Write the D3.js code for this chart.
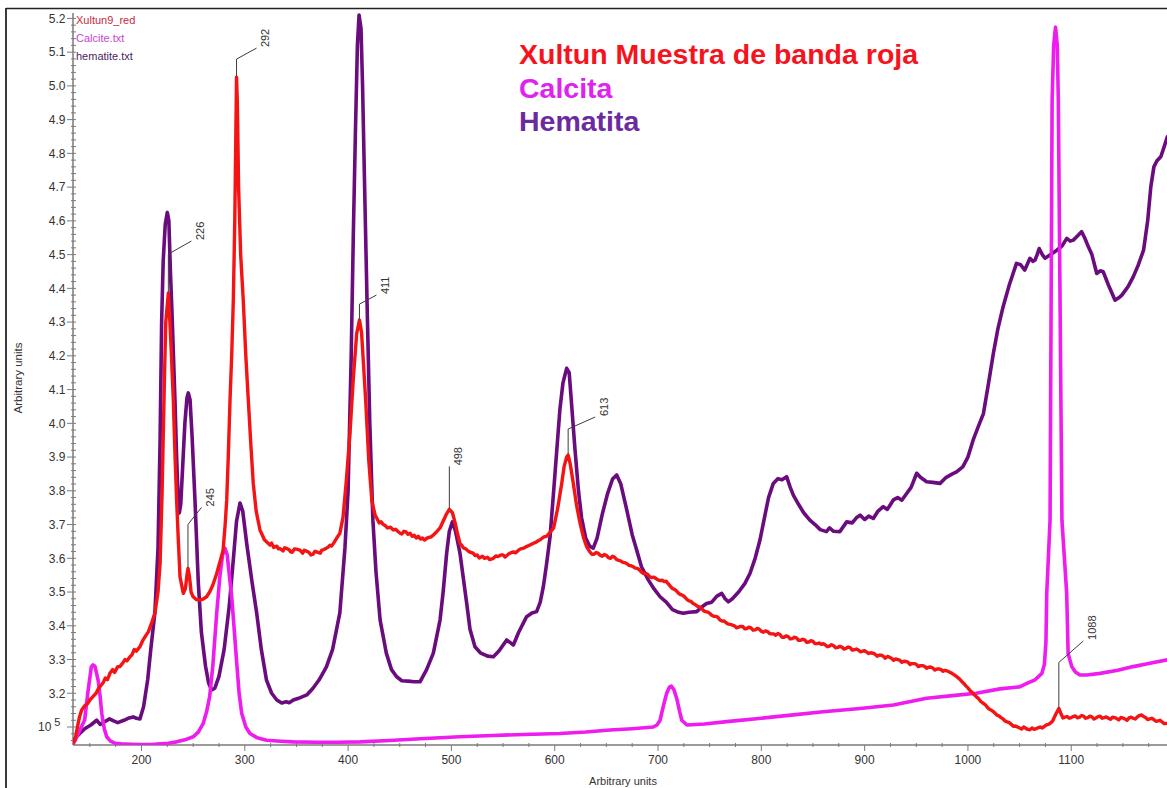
<!DOCTYPE html>
<html>
<head>
<meta charset="utf-8">
<script src="https://cdn.jsdelivr.net/npm/d3@7/dist/d3.min.js"></script>
<style>
  html, body { margin: 0; padding: 0; background: #fff; }
  svg { display: block; font-family: Arial, "Liberation Sans", sans-serif; }
</style>
</head>
<body>
<svg id="chart" width="1167" height="788"></svg>
<script>
// Raman spectra: red band sample vs. calcite and hematite references
const seriesNames = ["Xultun9_red", "Calcite.txt", "hematite.txt"];
const titleLines = ["Xultun Muestra de banda roja", "Calcita", "Hematita"];
const axisTitle = "Arbitrary units";

const xTickValues = [200, 300, 400, 500, 600, 700, 800, 900, 1000, 1100];
const yTickValues = [3.1, 3.2, 3.3, 3.4, 3.5, 3.6, 3.7, 3.8, 3.9, 4.0, 4.1, 4.2, 4.3, 4.4, 4.5, 4.6, 4.7, 4.8, 4.9, 5.0, 5.1, 5.2];

// peak positions annotated on the sample spectrum
const peakLabels = [226, 245, 292, 411, 498, 613, 1088];

// [Raman shift, intensity]
const sampleSpectrum = [
  [134,3.055],[135.6,3.061],[138,3.1],[140,3.13],[142,3.15],[145,3.163],[148,3.17],[150,3.18],[153,3.19],[156,3.2],
  [158,3.212],[160,3.22],[163,3.232],[165,3.245],[167,3.24],[169.4,3.259],[172,3.27],[174,3.262],[177,3.279],[179,3.279],
  [182,3.29],[184,3.3],[186,3.296],[188.8,3.308],[191,3.315],[193,3.33],[195,3.325],[198.5,3.338],[201,3.355],[204,3.37],
  [206.6,3.382],[210,3.41],[213,3.437],[216,3.5],[218,3.585],[220,3.8],[222,4.1],[223.5,4.3],[226,4.386],[227.5,4.3],
  [229,4.2],[230.8,4.069],[232.5,3.9],[234,3.773],[235.7,3.65],[237.3,3.545],[240.5,3.496],[242.5,3.51],[244,3.55],[245,3.57],
  [246.5,3.545],[248,3.5],[250,3.486],[253,3.478],[256.6,3.476],[260,3.48],[263,3.486],[266,3.5],[269,3.52],[272.8,3.555],
  [276,3.59],[279,3.624],[281,3.7],[282.5,3.773],[284,3.9],[285.7,4.069],[287.3,4.2],[288.9,4.365],[290.3,4.6],[291.3,4.85],
  [292,5.026],[292.8,4.95],[294,4.7],[296,4.5],[298.5,4.365],[301,4.2],[303.4,4.069],[306,3.93],[308.2,3.822],[311,3.74],
  [314.7,3.684],[319,3.655],[324.4,3.639],[326,3.645],[328,3.632],[331,3.636],[332.5,3.628],[334,3.629],[337,3.622],[338.5,3.631],
  [340,3.63],[343,3.625],[344.5,3.619],[346,3.618],[348,3.628],[350,3.627],[353.4,3.624],[356,3.615],[357.5,3.624],[359,3.622],
  [362,3.618],[364,3.61],[366,3.612],[368,3.621],[369.6,3.619],[373,3.615],[374.5,3.624],[376,3.625],[379,3.63],[381,3.634],
  [382.5,3.639],[384,3.636],[386,3.645],[389,3.66],[392,3.674],[395,3.72],[398,3.82],[401.8,3.97],[405,4.13],[408.3,4.266],
  [411,4.306],[413,4.27],[415,4.17],[417,4.069],[420,3.89],[423,3.77],[426,3.73],[430,3.705],[432,3.708],[434,3.7],
  [436,3.697],[438,3.69],[441,3.692],[443.8,3.684],[446,3.686],[448,3.68],[450,3.675],[452,3.672],[454,3.68],[456,3.678],
  [458,3.671],[460,3.674],[462,3.665],[464,3.668],[466,3.66],[468,3.665],[470,3.657],[472,3.66],[474,3.654],[476,3.659],
  [478,3.662],[480,3.663],[483,3.67],[485.8,3.679],[489,3.69],[492,3.71],[495,3.73],[498,3.745],[501,3.735],[504,3.7],
  [506,3.672],[508.3,3.644],[510,3.638],[512,3.63],[514,3.628],[516,3.622],[518,3.618],[521,3.615],[523,3.608],[525,3.61],
  [527,3.601],[530,3.606],[532,3.6],[535,3.603],[537,3.596],[540.6,3.6],[543,3.607],[545,3.605],[548,3.61],[550,3.61],
  [552,3.604],[555,3.612],[558,3.617],[560,3.619],[562,3.616],[565,3.624],[567,3.628],[570,3.63],[572,3.634],[575,3.638],
  [577,3.641],[579,3.644],[582,3.648],[584,3.652],[586,3.655],[588,3.66],[590,3.664],[592,3.665],[595,3.675],[599,3.69],
  [603,3.75],[606.8,3.822],[609,3.87],[611.5,3.9],[613,3.906],[615,3.88],[618,3.822],[621,3.76],[624.5,3.704],[628,3.66],
  [631,3.634],[634,3.619],[636,3.612],[638,3.612],[640,3.617],[642,3.615],[644,3.609],[646,3.606],[648,3.611],[650,3.609],
  [652,3.602],[654,3.6],[656,3.606],[658,3.603],[660,3.596],[662,3.594],[664,3.592],[666,3.588],[668,3.587],[670,3.584],
  [672,3.579],[674,3.578],[676,3.575],[678,3.571],[680,3.57],[682,3.566],[684,3.559],[686,3.555],[688,3.556],[690,3.552],
  [692,3.545],[694,3.543],[696,3.544],[698,3.54],[700,3.536],[702,3.534],[704,3.535],[706,3.531],[708,3.532],[710,3.524],
  [712,3.517],[714,3.51],[716,3.508],[718,3.503],[720,3.496],[722,3.492],[724,3.49],[726,3.485],[728,3.478],[730,3.474],
  [732,3.472],[734,3.466],[736,3.463],[738,3.458],[740,3.456],[742,3.452],[744,3.445],[746,3.442],[748,3.441],[750,3.437],
  [752,3.431],[754,3.428],[756,3.428],[758,3.425],[760,3.417],[762,3.414],[764,3.414],[766,3.409],[768,3.405],[770,3.404],
  [772,3.402],[774,3.4],[776,3.394],[778,3.396],[780,3.398],[782,3.398],[784,3.391],[786,3.392],[788,3.396],[790,3.394],
  [792,3.387],[794,3.388],[796,3.392],[798,3.39],[800,3.384],[802,3.381],[804,3.385],[806,3.383],[808,3.377],[810,3.376],
  [812,3.376],[814,3.372],[816,3.377],[818,3.374],[820,3.366],[822,3.366],[824,3.37],[826,3.368],[828,3.361],[830,3.362],
  [832,3.366],[834,3.364],[836,3.357],[838,3.357],[840,3.36],[842,3.358],[844,3.351],[846,3.352],[848,3.356],[850,3.354],
  [852,3.347],[854,3.347],[856,3.349],[858,3.345],[860,3.347],[862,3.343],[864,3.338],[866,3.34],[868,3.344],[870,3.341],
  [872,3.335],[874,3.336],[876,3.339],[878,3.337],[880,3.331],[882,3.333],[884,3.337],[886,3.335],[888,3.328],[890,3.329],
  [892,3.331],[894,3.328],[896,3.323],[898,3.325],[900,3.326],[902,3.322],[904,3.318],[906,3.32],[908,3.319],[910,3.316],
  [912,3.31],[914,3.313],[916,3.313],[918,3.31],[920,3.304],[922,3.309],[924,3.307],[926,3.304],[928,3.298],[930,3.302],
  [932,3.3],[934,3.298],[936,3.292],[938,3.295],[940,3.294],[942,3.292],[944,3.285],[946,3.288],[948,3.288],[950,3.286],
  [952,3.279],[954,3.282],[956,3.282],[958,3.28],[960,3.274],[962,3.277],[964,3.278],[966,3.275],[968,3.269],[970,3.272],
  [972,3.272],[974,3.27],[976,3.265],[978,3.268],[980,3.266],[982,3.263],[984,3.26],[986,3.256],[988,3.252],[990,3.247],
  [992,3.242],[994,3.235],[996,3.229],[998,3.222],[1000,3.216],[1002,3.208],[1004,3.203],[1006,3.196],[1008,3.19],[1010,3.185],
  [1012,3.177],[1014,3.172],[1016,3.168],[1018,3.162],[1020,3.154],[1022,3.151],[1024,3.147],[1026,3.142],[1028,3.135],[1030,3.133],
  [1032,3.128],[1034,3.124],[1036,3.118],[1038,3.115],[1040,3.113],[1042,3.108],[1044,3.102],[1046,3.103],[1048,3.1],[1050,3.097],
  [1052,3.094],[1054,3.1],[1056,3.096],[1058,3.093],[1060,3.092],[1062,3.097],[1064,3.093],[1066,3.095],[1068,3.098],[1070,3.1],
  [1072,3.097],[1074,3.102],[1076,3.106],[1078,3.108],[1080,3.112],[1082,3.118],[1085,3.138],[1088,3.155],[1090,3.14],[1092,3.127],
  [1094,3.129],[1096,3.131],[1098,3.126],[1100,3.128],[1102,3.131],[1104,3.133],[1106,3.127],[1108,3.129],[1110,3.134],[1112,3.132],
  [1114,3.126],[1116,3.128],[1118,3.132],[1120,3.13],[1122,3.124],[1124,3.127],[1126,3.131],[1128,3.132],[1130,3.126],[1132,3.128],
  [1134,3.13],[1136,3.126],[1138,3.123],[1140,3.129],[1142,3.128],[1144,3.125],[1146,3.121],[1148,3.128],[1150,3.127],[1152,3.124],
  [1154,3.12],[1156,3.127],[1158,3.129],[1160,3.126],[1162,3.124],[1164,3.13],[1166,3.134],[1168,3.136],[1170,3.131],[1172,3.128],
  [1174,3.122],[1176,3.124],[1178,3.126],[1180,3.122],[1182,3.117],[1184,3.118],[1186,3.12],[1188,3.115],[1190,3.11],[1193,3.111]
];

const calciteSpectrum = [
  [134,3.05],[138,3.075],[141,3.095],[145,3.121],[148,3.2],[151.5,3.279],[153,3.284],[155,3.28],[158,3.239],[160,3.19],
  [161.5,3.141],[164,3.095],[166.3,3.071],[170,3.058],[174.3,3.052],[180,3.05],[190,3.049],[200,3.048],[210,3.048],[218,3.05],
  [226,3.052],[234,3.056],[242,3.062],[250,3.071],[255,3.085],[259.8,3.111],[263,3.145],[266,3.19],[269,3.28],[272.8,3.437],
  [276,3.55],[278.5,3.61],[280.8,3.63],[283,3.61],[285,3.55],[287.3,3.486],[290,3.38],[292.2,3.289],[294.5,3.2],[297,3.141],
  [301,3.1],[305,3.081],[312,3.068],[321,3.061],[335,3.058],[347,3.056],[370,3.055],[390,3.055],[411.5,3.056],[440,3.06],
  [470,3.065],[508,3.071],[540,3.075],[570,3.078],[605,3.081],[630,3.085],[653.5,3.091],[675,3.095],[695.4,3.1],[699,3.106],
  [702,3.12],[705,3.16],[708.4,3.2],[711,3.218],[713,3.221],[715.5,3.21],[718.5,3.18],[721,3.145],[723,3.12],[728,3.106],
  [745,3.109],[766.5,3.116],[800,3.126],[831,3.136],[860,3.145],[895.6,3.155],[927.8,3.165],[960,3.185],[985,3.193],[1008,3.2],
  [1031,3.213],[1050,3.219],[1057,3.229],[1065,3.24],[1071.6,3.259],[1074,3.285],[1075.5,3.35],[1076.3,3.496],[1079.5,3.713],[1081.5,4.958],
  [1083,5.12],[1084.8,5.174],[1086.5,5.12],[1087.5,4.958],[1091,3.713],[1095.6,3.496],[1097,3.318],[1100.5,3.279],[1104,3.263],[1108.5,3.254],
  [1115,3.254],[1128,3.259],[1145,3.268],[1160,3.279],[1175,3.288],[1193,3.299]
];

const hematiteSpectrum = [
  [134,3.061],[140,3.08],[145,3.095],[151,3.106],[156.6,3.12],[160,3.108],[164,3.115],[169,3.124],[173,3.118],[177,3.113],
  [183,3.12],[188,3.127],[192,3.13],[195,3.126],[198.5,3.124],[202,3.16],[206,3.24],[209,3.33],[213,3.44],[216,3.63],
  [218,3.95],[219.5,4.3],[221,4.48],[223,4.59],[225,4.625],[226.5,4.6],[228,4.45],[229.5,4.33],[232.4,4.07],[234,3.9],
  [235.6,3.77],[236.6,3.734],[238,3.76],[240,3.88],[242,4.0],[244,4.075],[245.3,4.09],[247,4.07],[249,3.96],[251.8,3.77],
  [255,3.527],[258,3.38],[262,3.28],[265,3.23],[268,3.21],[271,3.215],[275,3.25],[280,3.33],[285,3.46],[289,3.6],
  [292,3.71],[295.4,3.764],[298,3.74],[302,3.64],[307,3.53],[311.5,3.438],[316,3.33],[321,3.239],[326,3.2],[331,3.18],
  [335.7,3.171],[340,3.175],[343,3.172],[347,3.18],[352,3.185],[356,3.19],[360,3.195],[366,3.215],[372,3.24],[379,3.278],
  [385,3.33],[392,3.438],[397,3.633],[400,3.8],[403,4.2],[405,4.55],[407,4.85],[409,5.12],[410.6,5.21],[412.5,5.17],
  [414,5.0],[416,4.7],[418.3,4.365],[421,4.0],[424,3.713],[427,3.56],[431,3.417],[437,3.319],[442,3.27],[447,3.249],
  [452,3.237],[458,3.236],[464,3.234],[469.6,3.234],[476,3.27],[482.5,3.319],[489,3.417],[492,3.5],[495.4,3.615],[498,3.68],
  [501,3.708],[504,3.68],[508.3,3.615],[514.8,3.467],[518,3.39],[522.8,3.338],[528,3.32],[535,3.31],[540.6,3.308],[546,3.325],
  [553.5,3.358],[557,3.35],[560,3.343],[565,3.38],[572.8,3.427],[578,3.438],[582.5,3.442],[586,3.47],[589,3.516],[592,3.58],
  [595.5,3.664],[599,3.8],[602,3.92],[605,4.04],[608,4.12],[611.6,4.163],[614,4.15],[616,4.07],[619.7,3.92],[623,3.8],
  [626,3.72],[630,3.66],[634,3.635],[637.3,3.63],[641,3.66],[646,3.73],[651,3.79],[656,3.835],[660,3.847],[664,3.82],
  [670,3.74],[675,3.67],[679.4,3.624],[684,3.575],[690.6,3.536],[696,3.51],[702,3.486],[708,3.47],[714,3.448],[720,3.44],
  [724.5,3.437],[730,3.44],[737.5,3.442],[742,3.455],[747,3.466],[752,3.47],[757,3.488],[761.7,3.496],[765,3.48],[768,3.471],
  [772,3.48],[778,3.5],[784,3.525],[789,3.555],[794,3.6],[798.7,3.654],[803,3.72],[807,3.78],[811.6,3.822],[816,3.836],
  [820,3.833],[824.5,3.842],[828,3.81],[831,3.787],[836,3.76],[841,3.735],[847,3.713],[852,3.7],[857,3.685],[863,3.679],
  [866,3.69],[870,3.68],[876,3.679],[882.6,3.708],[888,3.705],[892,3.72],[895.6,3.728],[900,3.715],[904,3.725],[908.4,3.718],
  [913,3.74],[918,3.753],[922,3.745],[927.8,3.773],[932,3.78],[936,3.772],[940.7,3.792],[945,3.81],[950.4,3.852],[954,3.84],
  [960,3.827],[966,3.825],[973,3.822],[979,3.84],[985,3.85],[989,3.856],[995,3.871],[1000,3.9],[1005,3.95],[1010,3.99],
  [1015,4.029],[1020,4.12],[1024.6,4.207],[1029,4.28],[1034,4.345],[1040,4.41],[1047,4.474],[1051,4.47],[1055,4.454],[1058,4.475],
  [1060,4.489],[1063,4.48],[1065,4.484],[1067,4.5],[1069,4.518],[1072,4.5],[1074.6,4.489],[1080,4.5],[1086,4.513],[1091,4.525],
  [1095.7,4.548],[1099,4.54],[1102,4.543],[1106,4.555],[1110,4.568],[1113,4.55],[1116.6,4.523],[1120,4.5],[1124.7,4.444],[1128,4.452],
  [1131,4.449],[1136,4.41],[1142.4,4.365],[1146,4.372],[1149,4.38],[1155,4.405],[1160,4.434],[1165,4.47],[1170,4.513],[1174,4.6],
  [1177,4.7],[1180,4.76],[1183,4.778],[1186.7,4.79],[1190,4.82],[1193,4.849]
];

// ---- layout ----
const W = 1167, H = 788;
const plot = { left: 73, right: 1167, top: 13, bottom: 745 };

const colors = {
  sample: "#f41414",
  calcite: "#ee1cee",
  hematite: "#6a0c7e",
  legend: ["#c8283c", "#c646d2", "#4c1e62"],
  title: ["#f4141e", "#e022f0", "#6c2aa0"],
  axis: "#7a7a7a",
  text: "#333"
};

const svg = d3.select("#chart");

svg.append("rect").attr("width", W).attr("height", H).attr("fill", "#fff");

// window frame
svg.append("line").attr("x1", 6).attr("x2", 6).attr("y1", 8).attr("y2", H)
  .attr("stroke", "#3a3a3a").attr("stroke-width", 2);
svg.append("line").attr("x1", 6).attr("x2", W).attr("y1", 8.5).attr("y2", 8.5)
  .attr("stroke", "#222").attr("stroke-width", 1.5);

const x = d3.scaleLinear().domain([133.7, 1192.7]).range([plot.left, plot.right]);
const y = d3.scaleLinear().domain([3.0467, 5.216]).range([plot.bottom, plot.top]);

// ---- axes ----
const xAxisG = svg.append("g");
xAxisG.append("line").attr("x1", plot.left).attr("x2", plot.right)
  .attr("y1", plot.bottom).attr("y2", plot.bottom).attr("stroke", colors.axis).attr("stroke-width", 1.5);
const xMinor = d3.range(150, 1200, 25).filter(v => v % 100 !== 0);
xAxisG.selectAll(".xminor").data(xMinor).join("line")
  .attr("x1", d => x(d)).attr("x2", d => x(d))
  .attr("y1", plot.bottom - 2).attr("y2", plot.bottom + 2)
  .attr("stroke", colors.axis);
xAxisG.selectAll(".xmajor").data(xTickValues).join("line")
  .attr("x1", d => x(d)).attr("x2", d => x(d))
  .attr("y1", plot.bottom).attr("y2", plot.bottom + 6)
  .attr("stroke", colors.axis);
xAxisG.selectAll(".xlab").data(xTickValues).join("text")
  .attr("x", d => x(d)).attr("y", 764)
  .attr("text-anchor", "middle").attr("font-size", 12).attr("fill", colors.text)
  .text(d => d);

const yAxisG = svg.append("g");
yAxisG.append("line").attr("x1", plot.left).attr("x2", plot.left)
  .attr("y1", plot.top).attr("y2", plot.bottom).attr("stroke", colors.axis).attr("stroke-width", 1.5);
const yMinor = d3.range(3.06, 5.22, 0.02).filter(v => Math.abs(Math.round(v * 10) - v * 10) > 0.01);
yAxisG.selectAll(".yminor").data(yMinor).join("line")
  .attr("x1", plot.left - 2).attr("x2", plot.left + 3)
  .attr("y1", d => y(d)).attr("y2", d => y(d))
  .attr("stroke", colors.axis);
yAxisG.selectAll(".ymajor").data(yTickValues).join("line")
  .attr("x1", plot.left - 6).attr("x2", plot.left + 3)
  .attr("y1", d => y(d)).attr("y2", d => y(d))
  .attr("stroke", colors.axis);
yAxisG.selectAll(".ylab").data(yTickValues.filter(v => v > 3.15)).join("text")
  .attr("x", 65.5).attr("y", d => y(d) + 4.3)
  .attr("text-anchor", "end").attr("font-size", 12).attr("fill", colors.text)
  .text(d => d.toFixed(1));
// power-of-ten label on the lowest tick
const powLab = yAxisG.append("text")
  .attr("x", 38).attr("y", y(3.1) + 4.3)
  .attr("font-size", 12).attr("fill", colors.text);
powLab.append("tspan").text("10");
powLab.append("tspan").attr("dx", 3).attr("dy", -5).attr("font-size", 11).text("5");

// axis titles
svg.append("text").attr("x", 623).attr("y", 785)
  .attr("text-anchor", "middle").attr("font-size", 11).attr("fill", colors.text).text(axisTitle);
svg.append("text").attr("transform", "translate(22,378) rotate(-90)")
  .attr("text-anchor", "middle").attr("font-size", 11.5).attr("fill", colors.text).text(axisTitle);

// ---- spectra ----
svg.append("clipPath").attr("id", "plotClip").append("rect")
  .attr("x", plot.left).attr("y", plot.top - 4).attr("width", plot.right - plot.left).attr("height", plot.bottom - plot.top + 4);

const line = d3.line().x(d => x(d[0])).y(d => y(d[1])).curve(d3.curveLinear);
const lines = svg.append("g").attr("clip-path", "url(#plotClip)");
[[hematiteSpectrum, colors.hematite, 3.6], [calciteSpectrum, colors.calcite, 3.6], [sampleSpectrum, colors.sample, 3.4]]
  .forEach(([data, c, w]) => {
    lines.append("path").datum(data).attr("d", line)
      .attr("fill", "none").attr("stroke", c).attr("stroke-width", w)
      .attr("stroke-linejoin", "round").attr("stroke-linecap", "round");
  });

// ---- peak annotations (leader: vertical rise, then a short slanted run) ----
const leaderShape = {
  226: [38, 23, -13], 245: [43, 13.5, -17], 292: [17, 20, -11], 411: [15, 17, -9],
  498: [42, 0, 0], 613: [25, 27, -12], 1088: [45, 24.5, -21.5]
};
const bis = d3.bisector(d => d[0]).left;
function sampleAt(v) {
  const i = bis(sampleSpectrum, v);
  if (i <= 0) return sampleSpectrum[0][1];
  const a = sampleSpectrum[i - 1], b = sampleSpectrum[i];
  if (!b) return a[1];
  const t = (v - a[0]) / (b[0] - a[0]);
  return a[1] + t * (b[1] - a[1]);
}
const ann = svg.append("g");
peakLabels.forEach(p => {
  const [v, dx, dy] = leaderShape[p];
  const px = x(p), py = y(sampleAt(p)) - 1;
  const vx = px, vy = py - v;
  const ex = vx + dx, ey = vy + dy;
  ann.append("path").attr("d", `M${px},${py}L${vx},${vy}L${ex},${ey}`)
    .attr("fill", "none").attr("stroke", "#3c3c3c").attr("stroke-width", 1);
  ann.append("text").attr("transform", `translate(${ex + 12.5},${ey - 1}) rotate(-90)`)
    .attr("font-size", 11).attr("fill", colors.text).text(p);
});

// ---- file legend (top left) ----
svg.selectAll(".leg").data(seriesNames).join("text")
  .attr("x", 76).attr("y", (d, i) => 24 + i * 18)
  .attr("font-size", 11).attr("fill", (d, i) => colors.legend[i]).text(d => d);

// ---- title block ----
svg.selectAll(".ttl").data(titleLines).join("text")
  .attr("x", 519).attr("y", (d, i) => 64 + i * 33.5)
  .attr("font-size", 28.5).attr("font-weight", "bold")
  .attr("fill", (d, i) => colors.title[i]).text(d => d);
</script>
</body>
</html>
